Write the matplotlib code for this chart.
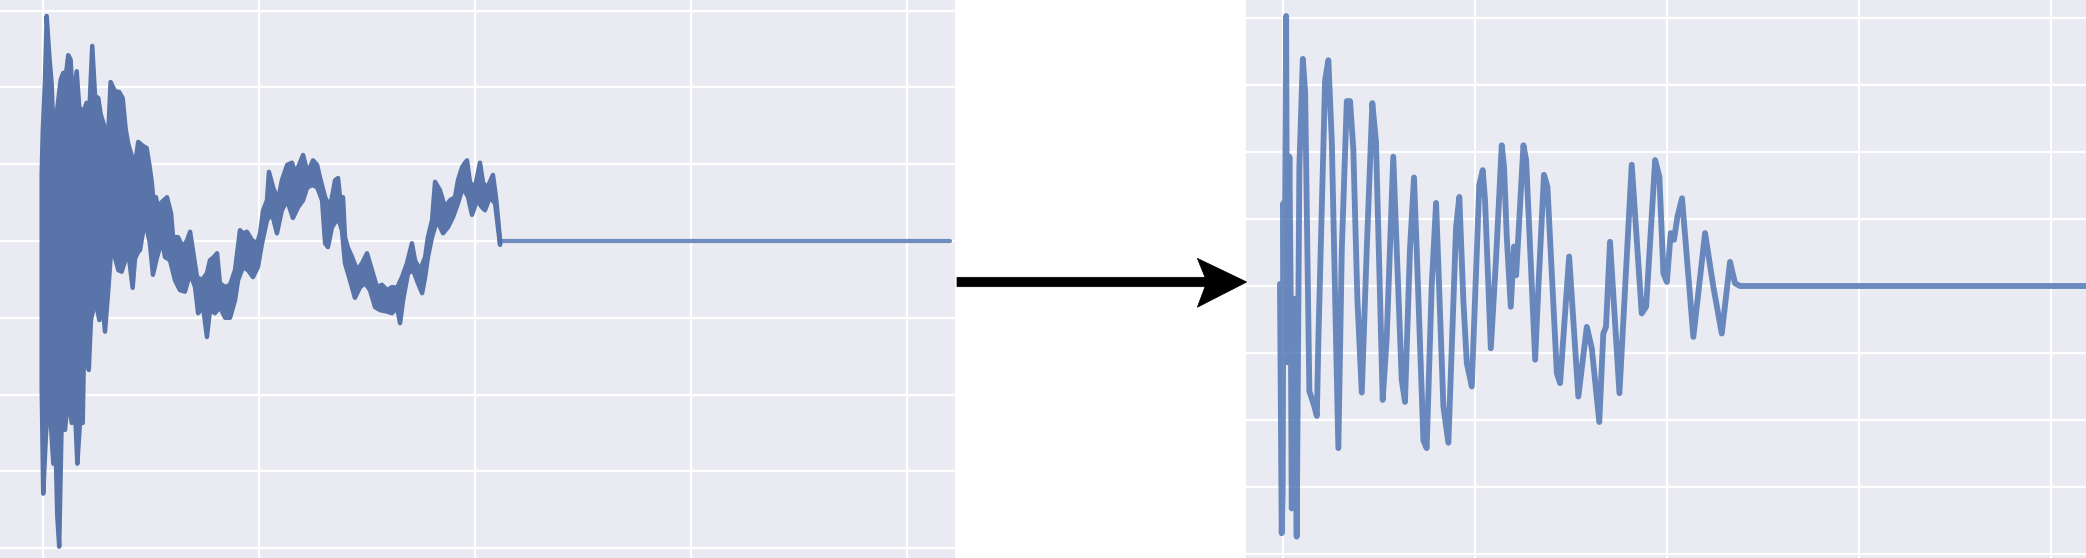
import matplotlib
matplotlib.use("Agg")
import matplotlib.pyplot as plt
from matplotlib.patches import Polygon

# ---------------- data ----------------
# Left panel: raw noisy signal, drawn as its upper / lower envelope
left_up_x = [-0.006,-0.001,0.009,0.017,0.029,0.040,0.051,0.063,0.082,0.094,
             0.106,0.117,0.128,0.138,0.156,0.168,0.187,0.202,0.214,0.228,
             0.241,0.256,0.267,0.287,0.302,0.313,0.333,0.353,0.369,0.383,
             0.395,0.411,0.426,0.441,0.462,0.480,0.492,0.503,0.514,0.523,
             0.532,0.551,0.574,0.593,0.602,0.625,0.648,0.667,0.681,0.694,
             0.713,0.736,0.759,0.773,0.787,0.806,0.819,0.843,0.866,0.889,
             0.912,0.926,0.944,0.968,0.991,1.005,1.019,1.037,1.046,1.065,
             1.088,1.106,1.130,1.153,1.167,1.181,1.204,1.222,1.236,1.250,
             1.269,1.282,1.306,1.329,1.352,1.366,1.375,1.389,1.398,1.412,
             1.431,1.454,1.477,1.500,1.523,1.546,1.569,1.593,1.616,1.639,
             1.662,1.685,1.708,1.722,1.745,1.769,1.782,1.801,1.815,1.838,
             1.861,1.884,1.907,1.921,1.940,1.954,1.963,1.977,2.000,2.023,
             2.037,2.056,2.083,2.097,2.106,2.116]
left_up_y = [0.87,1.43,2.07,2.93,2.42,2.05,1.24,1.65,2.10,2.19,
             2.16,2.42,2.36,1.77,2.21,1.74,1.68,1.80,1.65,2.54,
             1.89,1.86,1.65,1.47,1.38,2.07,1.95,1.94,1.86,1.45,
             1.26,1.11,1.00,1.29,1.24,1.21,1.00,0.78,0.46,0.57,
             0.44,0.51,0.57,0.36,0.05,0.05,-0.08,0.01,0.12,-0.12,
             -0.47,-0.51,-0.42,-0.25,-0.22,-0.16,-0.55,-0.60,-0.57,-0.38,
             0.14,0.10,0.12,0.01,-0.03,0.10,0.40,0.53,0.90,0.70,
             0.53,0.79,0.99,1.02,0.89,0.96,1.12,0.92,0.96,1.05,
             0.99,0.83,0.57,0.44,0.79,0.82,0.57,0.57,0.05,-0.09,
             -0.21,-0.38,-0.29,-0.16,-0.38,-0.60,-0.57,-0.64,-0.60,-0.61,
             -0.47,-0.29,-0.03,-0.25,-0.38,-0.21,0.05,0.27,0.77,0.66,
             0.44,0.53,0.57,0.79,0.96,1.02,1.05,0.76,0.70,1.02,
             0.76,0.69,0.86,0.57,0.31,0.01]
left_lo_x = [-0.006,0.001,0.014,0.025,0.036,0.048,0.060,0.066,0.075,0.087,
             0.102,0.117,0.133,0.148,0.159,0.171,0.184,0.190,0.202,0.212,
             0.222,0.233,0.249,0.261,0.272,0.287,0.302,0.315,0.329,0.349,
             0.364,0.380,0.395,0.415,0.426,0.441,0.449,0.472,0.495,0.509,
             0.528,0.551,0.565,0.588,0.611,0.634,0.657,0.681,0.704,0.718,
             0.741,0.759,0.773,0.796,0.819,0.843,0.866,0.889,0.903,0.926,
             0.949,0.972,0.995,1.014,1.037,1.060,1.083,1.106,1.130,1.157,
             1.181,1.204,1.222,1.245,1.269,1.292,1.306,1.319,1.338,1.366,
             1.384,1.398,1.421,1.444,1.468,1.491,1.514,1.537,1.560,1.593,
             1.616,1.639,1.653,1.667,1.690,1.713,1.736,1.755,1.769,1.782,
             1.801,1.824,1.852,1.875,1.898,1.921,1.944,1.968,1.986,2.009,
             2.032,2.046,2.069,2.093,2.106,2.116]
left_lo_y = [-1.89,-3.29,-2.51,-2.04,-2.37,-2.90,-2.88,-3.57,-3.98,-2.28,
             -2.46,-2.01,-2.37,-2.19,-2.90,-2.37,-2.37,-1.39,-1.26,-1.68,
             -1.03,-0.89,-0.86,-1.03,-0.70,-1.18,-0.65,-0.14,-0.17,-0.38,
             -0.40,-0.26,-0.14,-0.61,-0.23,-0.14,-0.12,0.27,-0.03,-0.44,
             -0.21,0.01,-0.21,-0.25,-0.51,-0.64,-0.66,-0.42,-0.60,-0.94,
             -0.86,-1.25,-0.90,-0.94,-0.86,-1.00,-1.00,-0.77,-0.51,-0.34,
             -0.38,-0.47,-0.34,-0.03,0.27,0.36,0.10,0.40,0.53,0.30,
             0.44,0.53,0.69,0.73,0.70,0.53,-0.03,-0.08,0.18,0.30,
             0.14,-0.29,-0.51,-0.74,-0.60,-0.55,-0.64,-0.86,-0.90,-0.92,
             -0.94,-0.86,-1.07,-0.77,-0.42,-0.38,-0.55,-0.68,-0.47,-0.21,
             0.05,0.27,0.10,0.18,0.31,0.49,0.70,0.57,0.34,0.53,
             0.44,0.40,0.57,0.49,0.18,-0.05]
left_flat_x = [2.116, 4.199]
left_flat_y = [0.0, 0.0]

# Right panel: cleaned / smoothed signal
right_x = [-0.016,-0.007,-0.002,0.002,0.005,0.009,0.016,0.022,0.033,0.040,
           0.045,0.054,0.057,0.071,0.085,0.103,0.115,0.137,0.161,0.176,
           0.184,0.219,0.236,0.254,0.288,0.306,0.332,0.349,0.366,0.387,
           0.410,0.436,0.465,0.484,0.519,0.540,0.574,0.592,0.618,0.635,
           0.661,0.682,0.696,0.731,0.748,0.774,0.797,0.809,0.835,0.861,
           0.901,0.918,0.939,0.957,0.983,1.022,1.040,1.052,1.082,1.109,
           1.139,1.151,1.165,1.186,1.203,1.214,1.252,1.266,1.313,1.330,
           1.359,1.377,1.426,1.443,1.490,1.538,1.582,1.608,1.647,1.668,
           1.682,1.703,1.752,1.816,1.868,1.891,1.938,1.960,1.981,1.999,
           2.019,2.036,2.054,2.078,2.137,2.198,2.241,2.285,2.328,2.354,
           2.380,4.40]
right_y = [0.03,-3.69,-3.05,1.24,-0.61,0.40,4.03,-1.14,1.93,-0.19,
           -3.32,-3.05,-0.19,-3.74,1.78,3.39,2.89,-1.57,-1.78,-1.94,
           -0.80,3.07,3.37,2.15,-2.42,0.55,2.76,2.76,2.04,-0.19,
           -1.59,0.55,2.73,2.15,-1.70,-0.77,1.93,0.55,-1.40,-1.73,
           0.55,1.62,0.55,-2.31,-2.42,-0.01,1.24,0.29,-1.80,-2.34,
           0.87,1.33,-0.21,-1.15,-1.50,1.51,1.73,1.28,-0.93,0.39,
           2.10,1.78,0.74,-0.31,0.59,0.16,2.10,1.88,-1.10,-0.01,
           1.66,1.48,-1.30,-1.45,0.44,-1.65,-0.61,-0.93,-2.03,-0.71,
           -0.61,0.66,-1.60,1.81,-0.41,-0.31,1.88,1.63,0.19,0.06,
           0.79,0.69,1.03,1.31,-0.76,0.79,-0.01,-0.71,0.36,0.04,
           0.0,0.0]

# ---------------- figure ----------------
W, H = 2086, 558
BLUE = "#4c72b0"
BAND = "#5874a9"
fig = plt.figure(figsize=(W / 100, H / 100), dpi=100)
fig.patch.set_facecolor("white")

axL = fig.add_axes([0, 0, 955 / W, 1])
axR = fig.add_axes([1246 / W, 0, (W - 1246) / W, 1])

for ax in (axL, axR):
    ax.set_facecolor("#EAEAF2")
    for s in ax.spines.values():
        s.set_visible(False)
    ax.grid(True, color="white", lw=1.6)
    ax.set_axisbelow(True)
    ax.tick_params(length=0, labelleft=False, labelbottom=False)

axL.set_xticks([0, 1, 2, 3, 4])
axL.set_yticks(list(range(-4, 4)))
axL.set_xlim(-0.199, 4.222)
axL.set_ylim(-4.128, 3.138)

axR.set_xticks([0, 1, 2, 3, 4])
axR.set_yticks(list(range(-4, 5)))
axR.set_xlim(-0.193, 4.182)
axR.set_ylim(-4.06, 4.269)

# left: noisy band (opaque so the outline does not darken)
band_x = left_up_x + left_lo_x[::-1]
band_y = left_up_y + left_lo_y[::-1]
axL.fill(band_x, band_y, facecolor=BAND, edgecolor=BAND, lw=3.2,
          joinstyle="round")
axL.plot(left_flat_x, left_flat_y, color=BLUE, lw=3.0, alpha=0.8,
         solid_capstyle="round")

# right: smooth signal
axR.plot(right_x, right_y, color=BLUE, lw=4.2, alpha=0.82,
         solid_joinstyle="round", solid_capstyle="round")

# arrow between the two panels (figure pixel geometry)
arrow_px = [(957, 271.3), (1205, 271.3), (1197.3, 250.7), (1246.7, 276),
            (1197.3, 299.7), (1205, 280.7), (957, 280.7)]
arrow = Polygon([(px / W, py / H) for px, py in arrow_px], closed=True,
                transform=fig.transFigure, facecolor="black",
                edgecolor="black", lw=0.5)
fig.add_artist(arrow)

fig.savefig("out.png", dpi=100, facecolor="white")
